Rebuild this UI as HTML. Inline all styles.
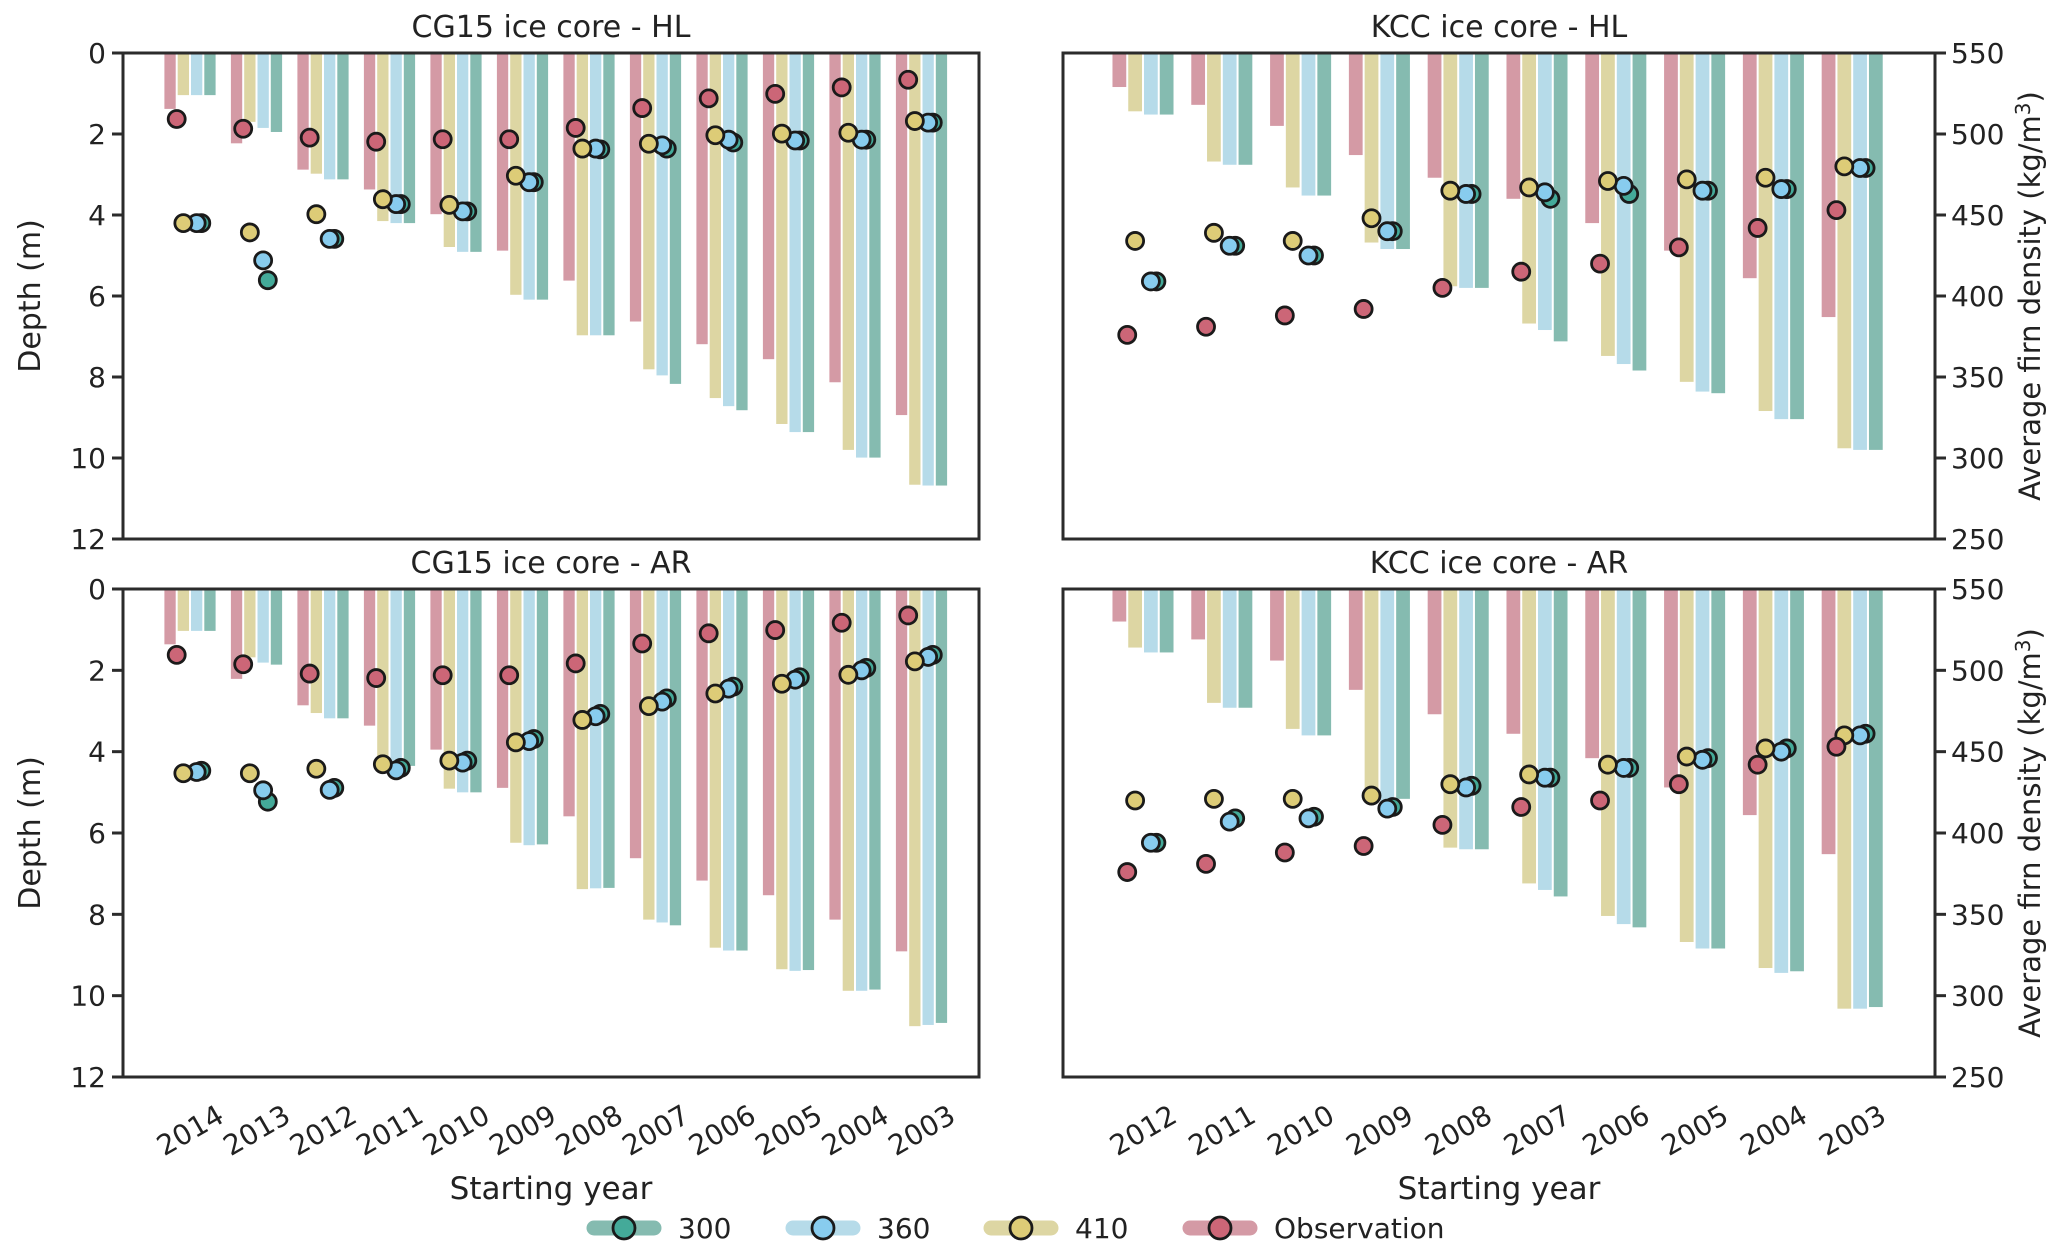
<!DOCTYPE html>
<html><head><meta charset="utf-8">
<style>
body{margin:0;background:#fff;}
svg{display:block;font-family:"DejaVu Sans","Liberation Sans",sans-serif;}
</style></head>
<body>
<svg id="chart" width="2067" height="1250" viewBox="0 0 2067 1250" xmlns="http://www.w3.org/2000/svg"></svg>
<script>
const yearsCG = ["2014","2013","2012","2011","2010","2009","2008","2007","2006","2005","2004","2003"];
const yearsKCC = ["2012","2011","2010","2009","2008","2007","2006","2005","2004","2003"];
const depthTicks = [0,2,4,6,8,10,12];
const densTicks = [550,500,450,400,350,300,250];
// series order: Observation, 410, 360, 300
const cgHLBarObs = [1.38,2.23,2.88,3.37,3.98,4.88,5.62,6.63,7.19,7.56,8.13,8.94];
const cgHLBar410 = [1.04,1.7,2.98,4.15,4.79,5.97,6.97,7.81,8.52,9.16,9.8,10.66];
const cgHLBar360 = [1.04,1.85,3.12,4.2,4.91,6.09,6.97,7.96,8.72,9.36,9.99,10.68];
const cgHLBar300 = [1.04,1.95,3.12,4.2,4.91,6.09,6.97,8.17,8.82,9.36,9.99,10.68];
const cgHLPtObs = [1.63,1.87,2.09,2.19,2.13,2.13,1.85,1.36,1.12,1.01,0.85,0.66];
const cgHLPt410 = [4.2,4.43,3.98,3.61,3.75,3.03,2.36,2.24,2.03,1.99,1.97,1.68];
const cgHLPt360 = [4.2,5.12,4.59,3.73,3.91,3.19,2.36,2.28,2.14,2.16,2.14,1.72];
const cgHLPt300 = [4.2,5.61,4.59,3.73,3.91,3.19,2.38,2.36,2.21,2.16,2.14,1.72];
const cgARBarObs = [1.36,2.21,2.86,3.36,3.95,4.89,5.59,6.62,7.17,7.53,8.13,8.91];
const cgARBar410 = [1.03,1.68,3.05,4.25,4.91,6.24,7.38,8.13,8.82,9.35,9.88,10.75];
const cgARBar360 = [1.03,1.81,3.18,4.4,5.0,6.3,7.36,8.2,8.89,9.39,9.88,10.72];
const cgARBar300 = [1.03,1.86,3.18,4.35,5.0,6.28,7.35,8.27,8.89,9.37,9.85,10.67];
const cgARPtObs = [1.62,1.85,2.08,2.19,2.12,2.12,1.83,1.34,1.09,1.01,0.83,0.65];
const cgARPt410 = [4.53,4.53,4.42,4.31,4.22,3.77,3.22,2.88,2.57,2.33,2.11,1.78];
const cgARPt360 = [4.5,4.95,4.94,4.46,4.27,3.74,3.13,2.77,2.45,2.23,2.0,1.67];
const cgARPt300 = [4.47,5.23,4.89,4.4,4.22,3.69,3.07,2.69,2.4,2.17,1.94,1.62];
const kHLBarObs = [529,518,505,487,473,460,445,428,411,387];
const kHLBar410 = [514,483,467,433,406,383,363,347,329,306];
const kHLBar360 = [512,481,462,429,405,379,358,341,324,305];
const kHLBar300 = [512,481,462,429,405,372,354,340,324,305];
const kHLPtObs = [376,381,388,392,405,415,420,430,442,453];
const kHLPt410 = [434,439,434,448,465,467,471,472,473,480];
const kHLPt360 = [409,431,425,440,463,464,468,465,466,479];
const kHLPt300 = [409,431,425,440,463,460,463,465,466,479];
const kARBarObs = [530,519,506,488,473,461,446,428,411,387];
const kARBar410 = [514,480,464,426,391,369,349,333,317,292];
const kARBar360 = [511,477,460,419,390,365,344,329,314,292];
const kARBar300 = [511,477,460,421,390,361,342,329,315,293];
const kARPtObs = [376,381,388,392,405,416,420,430,442,453];
const kARPt410 = [420,421,421,423,430,436,442,447,452,460];
const kARPt360 = [394,407,409,415,428,434,440,445,450,460];
const kARPt300 = [394,409,410,416,429,434,440,446,452,461];

const barCols = ["#d49aa5","#ddd6a3","#b6dbe9","#85bbb0"];
const ptCols = ["#cc6677","#ddcc77","#88ccee","#44aa99"];
const seriesNames = ["observation","410","360","300"];
const NS = "http://www.w3.org/2000/svg";
const svg = document.getElementById('chart');
function mk(tag, attrs, parent){const e=document.createElementNS(NS,tag);for(const k in attrs)e.setAttribute(k,attrs[k]);(parent||svg).appendChild(e);return e;}

const panels = [
 {key:"cg-hl",title:"CG15 ice core - HL",x0:123,x1:979,y0:53,y1:539,c0:190,sp:66.5,cats:yearsCG,dens:false,bars:[cgHLBarObs,cgHLBar410,cgHLBar360,cgHLBar300],pts:[cgHLPtObs,cgHLPt410,cgHLPt360,cgHLPt300],xl:false},
 {key:"kcc-hl",title:"KCC ice core - HL",x0:1063,x1:1935,y0:53,y1:539,c0:1143,sp:78.8,cats:yearsKCC,dens:true,bars:[kHLBarObs,kHLBar410,kHLBar360,kHLBar300],pts:[kHLPtObs,kHLPt410,kHLPt360,kHLPt300],xl:false},
 {key:"cg-ar",title:"CG15 ice core - AR",x0:123,x1:979,y0:589,y1:1077,c0:190,sp:66.5,cats:yearsCG,dens:false,bars:[cgARBarObs,cgARBar410,cgARBar360,cgARBar300],pts:[cgARPtObs,cgARPt410,cgARPt360,cgARPt300],xl:true},
 {key:"kcc-ar",title:"KCC ice core - AR",x0:1063,x1:1935,y0:589,y1:1077,c0:1143,sp:78.8,cats:yearsKCC,dens:true,bars:[kARBarObs,kARBar410,kARBar360,kARBar300],pts:[kARPtObs,kARPt410,kARPt360,kARPt300],xl:true}
];
const ptOff = [-0.2,-0.1,0.1,0.17];

panels.forEach(p=>{
  const g = mk('g',{});
  
  
  const yS = p.dens ? (v=>p.y0+(550-v)/300*(p.y1-p.y0)) : (v=>p.y0+v/12*(p.y1-p.y0));
  const xS = i=>p.c0+i*p.sp;
  const bw = 0.2*p.sp;
  p.bars.forEach((arr,s)=>{
    arr.forEach((v,i)=>{
      const x = xS(i)+(s-1.5)*bw - bw/2 + 1;
      const r = mk('rect',{x:x,y:p.y0,width:bw-2,height:Math.max(0,yS(v)-p.y0),fill:barCols[s]},g);
      
      
    });
  });
  [3,2,1,0].forEach(s=>{
    const arr = p.pts[s];
    arr.forEach((v,i)=>{
      const c = mk('circle',{cx:xS(i)+ptOff[s]*p.sp,cy:yS(v),r:8.5,fill:ptCols[s],stroke:"#1a1a1a","stroke-width":2.8},g);
      
      
    });
  });
  const f = mk('rect',{x:p.x0,y:p.y0,width:p.x1-p.x0,height:p.y1-p.y0,fill:"none",stroke:"#2b2b2b","stroke-width":3},g);
  
  
  const t = mk('text',{x:(p.x0+p.x1)/2,y:p.y0-16,"text-anchor":"middle","font-size":30,fill:"#222"},g);
  t.textContent = p.title;
  
  
  const ticks = p.dens ? densTicks : depthTicks;
  ticks.forEach(v=>{
    const y = yS(v);
    if(p.dens){
      mk('line',{x1:p.x1,x2:p.x1+11,y1:y,y2:y,stroke:"#2b2b2b","stroke-width":3},g);
      const tl = mk('text',{x:p.x1+16,y:y+10,"font-size":28,fill:"#222"},g);
      tl.textContent = v;
      
      
    } else {
      mk('line',{x1:p.x0-11,x2:p.x0,y1:y,y2:y,stroke:"#2b2b2b","stroke-width":3},g);
      const tl = mk('text',{x:p.x0-17,y:y+10,"text-anchor":"end","font-size":28,fill:"#222"},g);
      tl.textContent = v;
      
      
    }
  });
  const ly = (p.y0+p.y1)/2;
  const lab = p.dens ? mk('text',{x:2040,y:ly,"text-anchor":"middle","font-size":29,fill:"#222",transform:`rotate(-90 2040 ${ly})`},g)
                     : mk('text',{x:40,y:ly,"text-anchor":"middle","font-size":30,fill:"#222",transform:`rotate(-90 40 ${ly})`},g);
  if(p.dens){ lab.innerHTML = 'Average firn density (kg/m<tspan dy="-10" font-size="20">3</tspan><tspan dy="10">)</tspan>'; }
  else lab.textContent = 'Depth (m)';
  
  
  if(p.xl){
    p.cats.forEach((c,i)=>{
      const x = xS(i), y = 1140;
      const tl = mk('text',{x:x,y:y,"text-anchor":"middle","font-size":28,fill:"#222",transform:`rotate(-30 ${x} ${y-10})`},g);
      tl.textContent = c;
      
      
    });
    const xt = mk('text',{x:(p.x0+p.x1)/2,y:1199,"text-anchor":"middle","font-size":31,fill:"#222"},g);
    xt.textContent = 'Starting year';
    
    
  }
});

const legItems = [["300",3,588],["360",2,787],["410",1,985],["Observation",0,1184]];
legItems.forEach(([lbl,s,x])=>{
  const lg = mk('g',{});
  
  
  mk('line',{x1:x+6,x2:x+66,y1:1228,y2:1228,stroke:barCols[s],"stroke-width":15,"stroke-linecap":"round"},lg);
  mk('circle',{cx:x+36,cy:1228,r:11,fill:ptCols[s],stroke:"#1a1a1a","stroke-width":2.8},lg);
  const t = mk('text',{x:x+90,y:1238,"font-size":28,fill:"#222"},lg);
  t.textContent = lbl;
});
</script>
</body></html>
